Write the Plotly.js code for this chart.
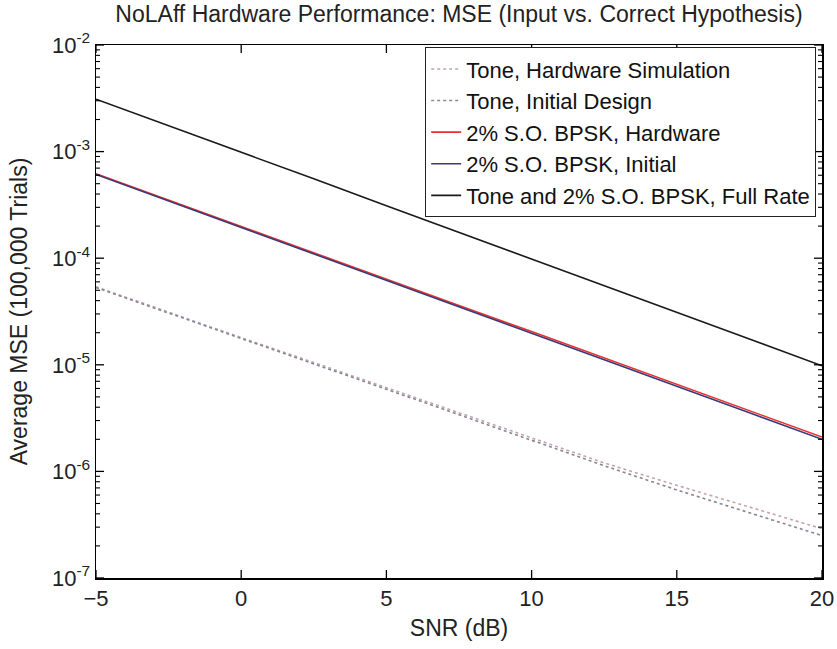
<!DOCTYPE html>
<html>
<head>
<meta charset="utf-8">
<script src="https://cdn.plot.ly/plotly-3.0.1.min.js"></script>
<style>html,body{margin:0;padding:0;background:#fff;}#chart{width:837px;height:649px;}</style>
</head>
<body>
<div id="chart"></div>
<script>
// SNR (dB)
const snr = [-5, -2.5, 0, 2.5, 5, 7.5, 10, 12.5, 15, 17.5, 20];
// Average MSE series
const toneHardware = [5.4e-5, 3.1e-5, 1.8e-5, 1.05e-5, 6.1e-6, 3.5e-6, 2.05e-6, 1.2e-6, 7.4e-7, 4.6e-7, 2.9e-7];
const toneInitial  = [5.3e-5, 3.05e-5, 1.75e-5, 1.02e-5, 5.9e-6, 3.4e-6, 1.95e-6, 1.13e-6, 6.7e-7, 4.1e-7, 2.5e-7];
const bpskHardware = [6.2e-4, 3.5e-4, 2.0e-4, 1.12e-4, 6.4e-5, 3.6e-5, 2.05e-5, 1.16e-5, 6.6e-6, 3.75e-6, 2.1e-6];
const bpskInitial  = [6.1e-4, 3.45e-4, 1.95e-4, 1.1e-4, 6.2e-5, 3.5e-5, 1.98e-5, 1.12e-5, 6.3e-6, 3.55e-6, 2.0e-6];
const fullRate     = [3.1e-3, 1.75e-3, 9.9e-4, 5.55e-4, 3.1e-4, 1.75e-4, 9.8e-5, 5.5e-5, 3.1e-5, 1.75e-5, 9.8e-6];

const seriesNames = ["Tone, Hardware Simulation", "Tone, Initial Design", "2% S.O. BPSK, Hardware", "2% S.O. BPSK, Initial", "Tone and 2% S.O. BPSK, Full Rate"];
const xTickVals = [-5, 0, 5, 10, 15, 20];
const yTickExp = [-7, -6, -5, -4, -3, -2];

const yTickVals = yTickExp.map(e => Math.pow(10, e));
const yTickText = yTickExp.map(e => "10<sup>" + e + "</sup>");
// minor tick exponents (log10 units) for the tick-only overlay axis
const minorExp = [];
for (let e = -7; e < -2; e++) for (let k = 2; k <= 9; k++) minorExp.push(e + Math.log10(k));

const styles = [
  {color: "#c4a4ac", width: 1.6, dash: "dot"},
  {color: "#86869a", width: 1.6, dash: "dot"},
  {color: "#e8312f", width: 1.6, dash: "solid"},
  {color: "#3a3a78", width: 1.6, dash: "solid"},
  {color: "#1a1a1a", width: 1.6, dash: "solid"}
];
const ys = [toneHardware, toneInitial, bpskHardware, bpskInitial, fullRate];

const traces = ys.map((y, i) => ({
  x: snr, y: y, type: "scatter", mode: "lines",
  name: seriesNames[i], line: styles[i], legendgroup: "g" + i
}));
// transparent helper trace so the linear (log10-unit) overlay axis exists
traces.push({x: snr, y: yTickExp, xaxis: "x", yaxis: "y2", type: "scatter", mode: "lines",
             line: {color: "rgba(0,0,0,0)", width: 0}, showlegend: false, hoverinfo: "skip"});

// inward tick marks on all four sides (axis decoration)
const TICK = {color: "#000", width: 1.3};
const xLen = 8 / 533, yLen = 8 / 726, yMinorLen = 4 / 726;
const shapes = [];
xTickVals.forEach(v => {
  shapes.push({type: "line", xref: "x", yref: "paper", x0: v, x1: v, y0: 0, y1: xLen, line: TICK, layer: "above"});
  shapes.push({type: "line", xref: "x", yref: "paper", x0: v, x1: v, y0: 1, y1: 1 - xLen, line: TICK, layer: "above"});
});
yTickExp.forEach(v => {
  shapes.push({type: "line", xref: "paper", yref: "y2", x0: 0, x1: yLen, y0: v, y1: v, line: TICK, layer: "above"});
  shapes.push({type: "line", xref: "paper", yref: "y2", x0: 1, x1: 1 - yLen, y0: v, y1: v, line: TICK, layer: "above"});
});
minorExp.forEach(v => {
  shapes.push({type: "line", xref: "paper", yref: "y2", x0: 0, x1: yMinorLen, y0: v, y1: v, line: {color: "#000", width: 1.1}, layer: "above"});
  shapes.push({type: "line", xref: "paper", yref: "y2", x0: 1, x1: 1 - yMinorLen, y0: v, y1: v, line: {color: "#000", width: 1.1}, layer: "above"});
});

const FONT = "Liberation Sans, Arial, sans-serif";

const layout = {
  width: 837, height: 649,
  margin: {l: 96, r: 15, t: 45, b: 71},
  paper_bgcolor: "#fff", plot_bgcolor: "#fff",
  font: {family: FONT, color: "#222"},
  title: {text: "NoLAff Hardware Performance: MSE (Input vs. Correct Hypothesis)",
          font: {size: 23, color: "#222"}, x: 0.5, xanchor: "center", xref: "paper", y: 0.978, yanchor: "middle"},
  xaxis: {
    range: [-5, 20], tickmode: "array", tickvals: xTickVals, ticks: "",
    showline: true, linecolor: "#000", linewidth: 1.5, mirror: true,
    showgrid: false, zeroline: false,
    tickfont: {family: FONT, size: 22, color: "#222"},
    title: {text: "SNR (dB)", font: {size: 23, color: "#222"}, standoff: 10}
  },
  yaxis: {
    type: "log", range: [-7, -2], tickmode: "array", tickvals: yTickVals, ticktext: yTickText, ticks: "",
    showline: true, linecolor: "#000", linewidth: 1.5, mirror: true,
    showgrid: false, zeroline: false,
    tickfont: {family: FONT, size: 22, color: "#222"},
    title: {text: "Average MSE (100,000 Trials)", font: {size: 23, color: "#222"}, standoff: 18}
  },
  yaxis2: {
    type: "linear", range: [-7, -2], overlaying: "y", side: "right", anchor: "x",
    ticks: "", showticklabels: false, showline: false, showgrid: false, zeroline: false
  },
  shapes: shapes,
  showlegend: true,
  legend: {x: 0.992, xanchor: "right", y: 0.996, yanchor: "top",
           bgcolor: "#fff", bordercolor: "#222", borderwidth: 1,
           font: {size: 22, color: "#111"}, tracegroupgap: 0}
};

Plotly.newPlot("chart", traces, layout, {displayModeBar: false, staticPlot: true});
</script>
</body>
</html>
